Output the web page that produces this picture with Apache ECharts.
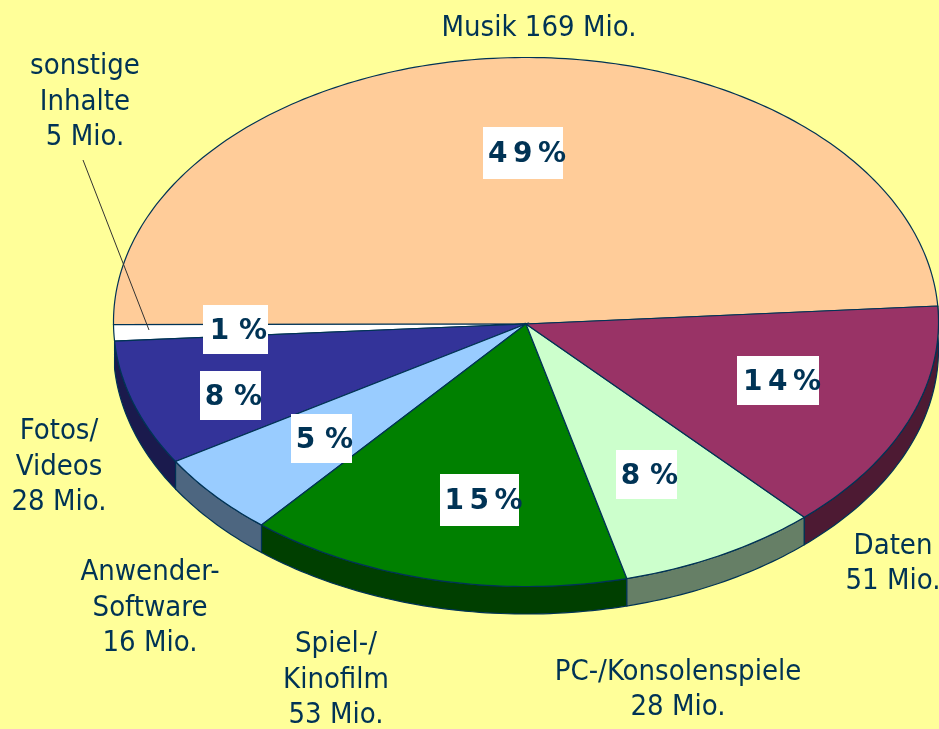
<!DOCTYPE html>
<html><head><meta charset="utf-8">
<style>html,body{margin:0;padding:0;background:#FFFF99}#c{width:939px;height:729px}</style>
<script src="https://cdn.jsdelivr.net/npm/echarts@6/dist/echarts.min.js"></script>
</head><body><div id="c"></div>
<script>
// ---- data, in drawing order (counter-clockwise from the right) ----
const categories = ['Musik', 'sonstige Inhalte', 'Fotos/Videos', 'Anwender-Software', 'Spiel-/Kinofilm', 'PC-/Konsolenspiele', 'Daten'];
const millions = [169, 5, 28, 16, 53, 28, 51];
const percentLabels = [49, 1, 8, 5, 15, 8, 14];
// slice sizes in percent
const sliceShares = [48.9, 1, 7.7, 5.1, 15.1, 7.9, 14.2];
const labelLines = [
  ['Musik 169 Mio.'],
  ['sonstige', 'Inhalte', '5 Mio.'],
  ['Fotos/', 'Videos', '28 Mio.'],
  ['Anwender-', 'Software', '16 Mio.'],
  ['Spiel-/', 'Kinofilm', '53 Mio.'],
  ['PC-/Konsolenspiele', '28 Mio.'],
  ['Daten', '51 Mio.']
];

// ---- styling and layout ----
const topColors = ['#FFCC99', '#FFFFFF', '#333399', '#99CCFF', '#008000', '#CCFFCC', '#993366'];
const sideColors = [null, null, '#1A1A4D', '#4D6680', '#003F00', '#667F66', '#4D1A33'];
const INK = '#003355';
const BG = '#FFFF99';
const labelCenter = [[539, 28], [85, 102], [59, 467], [150, 608], [336, 680], [678, 690], [893, 564]];
const boxRect = [[483, 127, 80, 52], [203, 305, 65, 49], [200, 371, 61, 49], [291, 414, 61, 49], [440, 474, 79, 52], [616, 450, 61, 49], [737, 356, 82, 49]];
const TEXT_FONT = '"DejaVu Sans Condensed","DejaVu Sans",sans-serif';
const BOLD_FONT = '"DejaVu Sans",sans-serif';

// disc projection: a circle seen in slight perspective
const CX = 526, CY = 324, RX = 412.5, RY = 264.5, PERSP = 0.0076, DEPTH = 27.5, START = 3.9;
function project(deg, drop) {
  const t = deg * Math.PI / 180, u = Math.cos(t), v = Math.sin(t), k = 1 - PERSP * v;
  return [CX + RX * u / k, CY - RY * v / k + (drop || 0)];
}
const total = sliceShares.reduce((a, b) => a + b, 0);
const startAngles = [];
sliceShares.reduce((acc, s, i) => { startAngles[i] = acc; return acc + s / total * 360; }, START);

function rim(a0, a1, drop) {
  const n = Math.max(2, Math.ceil(Math.abs(a1 - a0)));
  const pts = [];
  for (let i = 0; i <= n; i++) pts.push(project(a0 + (a1 - a0) * i / n, drop));
  return pts;
}
function range(i) { return [startAngles[i], startAngles[i] + sliceShares[i] / total * 360]; }

const chart = echarts.init(document.getElementById('c'), null, { renderer: 'canvas' });
const tableRows = categories.map((c, i) => [i, sliceShares[i], millions[i], percentLabels[i], c]);

chart.setOption({
  animation: false,
  backgroundColor: BG,
  grid: { left: 0, right: 0, top: 0, bottom: 0 },
  xAxis: { type: 'value', min: 0, max: 939, show: false },
  yAxis: { type: 'value', min: 0, max: 729, inverse: true, show: false },
  tooltip: { show: false },
  series: [
    { // rim of the disc
      type: 'custom', coordinateSystem: 'cartesian2d', clip: false, silent: true, z: 1,
      data: tableRows,
      renderItem(params, api) {
        const i = params.dataIndex;
        if (!sideColors[i]) return null;
        const [a0, a1] = range(i);
        const pts = rim(a0, a1, 0).concat(rim(a1, a0, DEPTH)).map(p => api.coord(p));
        return { type: 'polygon', shape: { points: pts }, style: { fill: sideColors[i], stroke: INK, lineWidth: 1.2 } };
      }
    },
    { // top faces
      type: 'custom', coordinateSystem: 'cartesian2d', clip: false, silent: true, z: 2,
      data: tableRows,
      renderItem(params, api) {
        const i = params.dataIndex;
        const [a0, a1] = range(i);
        const pts = [[CX, CY]].concat(rim(a0, a1, 0)).map(p => api.coord(p));
        return { type: 'polygon', shape: { points: pts }, style: { fill: topColors[i], stroke: INK, lineWidth: 1.2 } };
      }
    },
    { // percentage boxes, outer labels, leader line
      type: 'custom', coordinateSystem: 'cartesian2d', clip: false, silent: true, z: 3,
      data: tableRows,
      renderItem(params, api) {
        const i = params.dataIndex;
        const b = boxRect[i];
        const tl = api.coord([b[0], b[1]]);
        const lc = api.coord(labelCenter[i]);
        const two = percentLabels[i] >= 10;
        const pctText = two ? String(percentLabels[i]).split('').join('\u2009') + '\u2009%' : percentLabels[i] + ' %';
        const children = [
          { type: 'rect', shape: { x: tl[0], y: tl[1], width: b[2], height: b[3] }, style: { fill: '#FFFFFF' } },
          { type: 'text', style: { text: pctText, x: tl[0] + b[2] / 2 + (two ? 4 : 3), y: tl[1] + b[3] / 2 + 2, align: 'center', verticalAlign: 'middle',
              fill: INK, fontFamily: BOLD_FONT, fontWeight: 'bold', fontSize: 28 } },
          { type: 'text', style: { text: labelLines[i].join('\n'), x: lc[0], y: lc[1], align: 'center', verticalAlign: 'middle',
              fill: INK, fontFamily: TEXT_FONT, fontSize: 29, lineHeight: 35.5 } }
        ];
        if (i === 1) {
          const p = api.coord([83, 160]), q = api.coord([149, 330]);
          children.push({ type: 'line', shape: { x1: p[0], y1: p[1], x2: q[0], y2: q[1] }, style: { stroke: '#333333', lineWidth: 1 } });
        }
        return { type: 'group', children };
      }
    }
  ]
});
</script></body></html>
